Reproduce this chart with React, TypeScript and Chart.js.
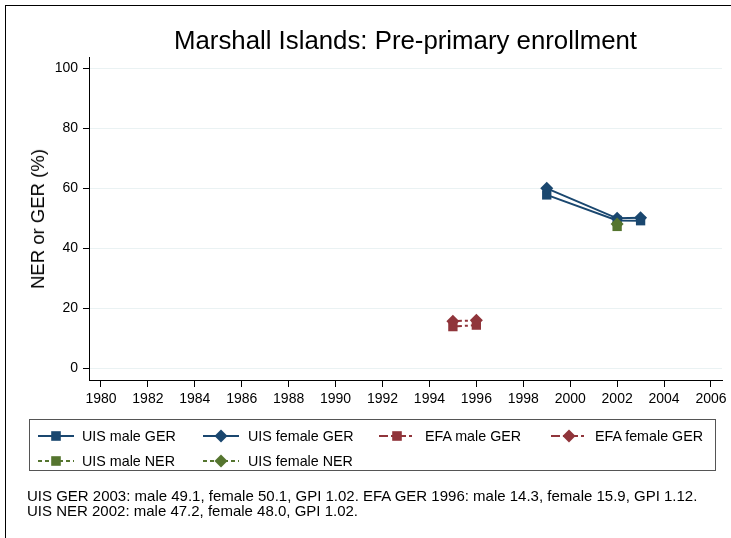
import React, { useEffect, useRef } from 'react';
import { Chart, registerables } from 'chart.js';

Chart.register(...registerables);

const TITLE = 'Marshall Islands: Pre-primary enrollment';
const Y_TITLE = 'NER or GER (%)';

const YEARS_UIS_GER = [1999, 2002, 2003];
const UIS_MALE_GER = [57.7, 49.2, 49.1];
const UIS_FEMALE_GER = [59.9, 49.9, 50.1];

const YEARS_EFA_GER = [1995, 1996];
const EFA_MALE_GER = [13.8, 14.3];
const EFA_FEMALE_GER = [15.6, 15.9];

const YEARS_UIS_NER = [2002];
const UIS_MALE_NER = [47.2];
const UIS_FEMALE_NER = [48.0];

const X_TICKS = [1980, 1982, 1984, 1986, 1988, 1990, 1992, 1994, 1996, 1998, 2000, 2002, 2004, 2006];
const Y_TICKS = [0, 20, 40, 60, 80, 100];

const FOOTNOTES = [
  'UIS GER 2003: male 49.1, female 50.1, GPI 1.02. EFA GER 1996: male 14.3, female 15.9, GPI 1.12.',
  'UIS NER 2002: male 47.2, female 48.0, GPI 1.02.',
];

const NAVY = '#1a476f';
const MAROON = '#90353b';
const GREEN = '#55752f';

const DASH_EFA = [9, 3, 3, 3];
const DASH_NER = [4, 3];

const FONT = '"Liberation Sans", Arial, sans-serif';

const pts = (xs: number[], ys: number[]) => xs.map((x, i) => ({ x, y: ys[i] }));

type LegendItem = { label: string; color: string; marker: 'square' | 'diamond'; dash: number[] };

const LEGEND: LegendItem[] = [
  { label: 'UIS male GER', color: NAVY, marker: 'square', dash: [] },
  { label: 'UIS female GER', color: NAVY, marker: 'diamond', dash: [] },
  { label: 'EFA male GER', color: MAROON, marker: 'square', dash: DASH_EFA },
  { label: 'EFA female GER', color: MAROON, marker: 'diamond', dash: DASH_EFA },
  { label: 'UIS male NER', color: GREEN, marker: 'square', dash: DASH_NER },
  { label: 'UIS female NER', color: GREEN, marker: 'diamond', dash: DASH_NER },
];

const LEGEND_POS = [
  { x: 38, y: 436, tx: 82 },
  { x: 203, y: 436, tx: 248 },
  { x: 379, y: 436, tx: 425 },
  { x: 551, y: 436, tx: 595 },
  { x: 38, y: 461, tx: 82 },
  { x: 203, y: 461, tx: 248 },
];

function Sample({ item }: { item: LegendItem }) {
  return (
    <svg width={36} height={14} style={{ display: 'block' }}>
      <line x1={0} y1={7} x2={36} y2={7} stroke={item.color} strokeWidth={2}
        strokeDasharray={item.dash.length ? item.dash.join(' ') : undefined} />
      {item.marker === 'square' ? (
        <rect x={18 - 4.8} y={7 - 4.8} width={9.6} height={9.6} fill={item.color} />
      ) : (
        <polygon points={`18,0.5 24.5,7 18,13.5 11.5,7`} fill={item.color} />
      )}
    </svg>
  );
}

export default function App() {
  const ref = useRef<HTMLCanvasElement | null>(null);

  useEffect(() => {
    document.body.style.margin = '0';
    if (!ref.current) return;
    const mk = (label: string, data: any[], color: string, style: string, dash: number[], order: number) => ({
      label,
      data,
      borderColor: color,
      backgroundColor: color,
      borderWidth: 2,
      borderDash: dash,
      pointStyle: style,
      pointRadius: style === 'rect' ? 6.6 : 6.5,
      pointBorderWidth: 0,
      pointBackgroundColor: color,
      showLine: true,
      tension: 0,
      order,
    });
    const chart = new Chart(ref.current, {
      type: 'scatter',
      data: {
        datasets: [
          mk('UIS male GER', pts(YEARS_UIS_GER, UIS_MALE_GER), NAVY, 'rect', [], 6),
          mk('UIS female GER', pts(YEARS_UIS_GER, UIS_FEMALE_GER), NAVY, 'rectRot', [], 5),
          mk('EFA male GER', pts(YEARS_EFA_GER, EFA_MALE_GER), MAROON, 'rect', DASH_EFA, 4),
          mk('EFA female GER', pts(YEARS_EFA_GER, EFA_FEMALE_GER), MAROON, 'rectRot', DASH_EFA, 3),
          mk('UIS male NER', pts(YEARS_UIS_NER, UIS_MALE_NER), GREEN, 'rect', DASH_NER, 2),
          mk('UIS female NER', pts(YEARS_UIS_NER, UIS_FEMALE_NER), GREEN, 'rectRot', DASH_NER, 1),
        ] as any,
      },
      options: {
        animation: false,
        responsive: false,
        maintainAspectRatio: false,
        layout: { padding: { left: 0, right: 9, top: 57, bottom: 0 } },
        plugins: { legend: { display: false }, title: { display: false }, tooltip: { enabled: false } },
        scales: {
          x: {
            type: 'linear',
            min: 1979.49,
            max: 2006.47,
            afterFit: (s: any) => { s.height = 158; },
            afterBuildTicks: (s: any) => { s.ticks = X_TICKS.map((v) => ({ value: v })); },
            grid: { drawOnChartArea: false, drawTicks: true, tickLength: 7, tickColor: '#000', tickWidth: 1 },
            border: { display: true, color: '#000', width: 1 },
            ticks: {
              autoSkip: false,
              maxRotation: 0,
              padding: 4,
              color: '#000',
              font: { family: FONT, size: 14 },
              callback: (v: any) => String(v),
            },
          },
          y: {
            type: 'linear',
            min: -4,
            max: 103.67,
            afterFit: (s: any) => { s.width = 89; },
            afterBuildTicks: (s: any) => { s.ticks = Y_TICKS.map((v) => ({ value: v })); },
            grid: { color: '#eaf2f3', lineWidth: 1, drawTicks: true, tickLength: 6, tickColor: '#000', tickWidth: 1 },
            border: { display: true, color: '#000', width: 1 },
            ticks: {
              padding: 5,
              color: '#000',
              font: { family: FONT, size: 14 },
              callback: (v: any) => String(v),
            },
          },
        },
      } as any,
    });
    return () => chart.destroy();
  }, []);

  return (
    <div style={{ position: 'relative', width: 731, height: 538, background: '#fff', overflow: 'hidden', fontFamily: FONT, color: '#000' }}>
      <div style={{ position: 'absolute', left: 5, top: 5, right: 0, height: 1, background: '#000' }} />
      <div style={{ position: 'absolute', left: 5, top: 5, bottom: 0, width: 1, background: '#000' }} />
      <canvas ref={ref} width={731} height={538} style={{ position: 'absolute', left: 0, top: 0 }} />
      <div style={{ position: 'absolute', left: 0, width: 811, top: 25, fontSize: 25.8, lineHeight: '30px', textAlign: 'center', whiteSpace: 'nowrap' }}>
        {TITLE}
      </div>
      <div style={{ position: 'absolute', left: 38, top: 219, width: 0, height: 0 }}>
        <div style={{ position: 'absolute', transform: 'translate(-50%, -50%) rotate(-90deg)', fontSize: 18.5, whiteSpace: 'nowrap', lineHeight: '22px' }}>
          {Y_TITLE}
        </div>
      </div>
      <div style={{ position: 'absolute', left: 29, top: 419, width: 687, height: 52, border: '1px solid #555', boxSizing: 'border-box' }} />
      {LEGEND.map((item, i) => (
        <React.Fragment key={item.label}>
          <div style={{ position: 'absolute', left: LEGEND_POS[i].x, top: LEGEND_POS[i].y - 7 }}>
            <Sample item={item} />
          </div>
          <div style={{ position: 'absolute', left: LEGEND_POS[i].tx, top: LEGEND_POS[i].y - 9, fontSize: 14.3, lineHeight: '18px', whiteSpace: 'nowrap' }}>
            {item.label}
          </div>
        </React.Fragment>
      ))}
      {FOOTNOTES.map((t, i) => (
        <div key={i} style={{ position: 'absolute', left: 27, top: 487 + i * 15, fontSize: 15, lineHeight: '17px', whiteSpace: 'nowrap' }}>
          {t}
        </div>
      ))}
    </div>
  );
}
